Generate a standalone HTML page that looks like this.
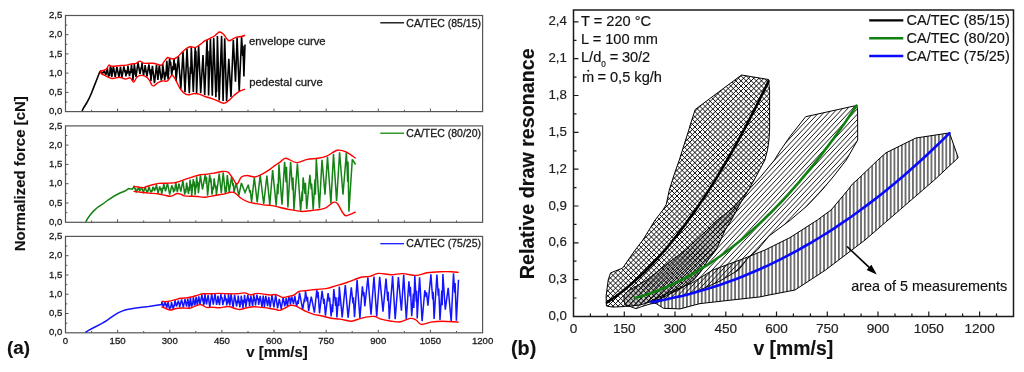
<!DOCTYPE html>
<html><head><meta charset="utf-8"><title>chart</title>
<style>html,body{margin:0;padding:0;background:#fff;width:1024px;height:372px;overflow:hidden}
svg{display:block;font-family:"Liberation Sans", sans-serif;will-change:transform}
text{stroke:#1a1a1a;stroke-width:0.3px}
text.b{stroke-width:0.15px}
text.r{stroke-width:0.18px}</style></head>
<body><svg width="1024" height="372" viewBox="0 0 1024 372" font-family='"Liberation Sans", sans-serif'><rect x="65.5" y="15.5" width="417.1" height="96.1" fill="none" stroke="#555" stroke-width="1.2"/>
<text x="62.3" y="114.2" font-size="9.6" text-anchor="end" fill="#222">0,0</text>
<text x="62.3" y="95" font-size="9.6" text-anchor="end" fill="#222">0,5</text>
<text x="62.3" y="75.7" font-size="9.6" text-anchor="end" fill="#222">1,0</text>
<text x="62.3" y="56.5" font-size="9.6" text-anchor="end" fill="#222">1,5</text>
<text x="62.3" y="37.3" font-size="9.6" text-anchor="end" fill="#222">2,0</text>
<text x="62.3" y="18.1" font-size="9.6" text-anchor="end" fill="#222">2,5</text>
<path d="M65.5,102h1.8 M65.5,92.4h3 M65.5,82.8h1.8 M65.5,73.1h3 M65.5,63.5h1.8 M65.5,53.9h3 M65.5,44.3h1.8 M65.5,34.7h3 M65.5,25.1h1.8 M91.6,111.6v-1.8 M117.6,111.6v-3 M143.7,111.6v-1.8 M169.8,111.6v-3 M195.8,111.6v-1.8 M221.9,111.6v-3 M248,111.6v-1.8 M274,111.6v-3 M300.1,111.6v-1.8 M326.2,111.6v-3 M352.2,111.6v-1.8 M378.3,111.6v-3 M404.4,111.6v-1.8 M430.4,111.6v-3 M456.5,111.6v-1.8" stroke="#555" stroke-width="1" fill="none"/>
<rect x="65.5" y="125.9" width="417.1" height="96.4" fill="none" stroke="#555" stroke-width="1.2"/>
<text x="62.3" y="224.9" font-size="9.6" text-anchor="end" fill="#222">0,0</text>
<text x="62.3" y="205.6" font-size="9.6" text-anchor="end" fill="#222">0,5</text>
<text x="62.3" y="186.3" font-size="9.6" text-anchor="end" fill="#222">1,0</text>
<text x="62.3" y="167" font-size="9.6" text-anchor="end" fill="#222">1,5</text>
<text x="62.3" y="147.7" font-size="9.6" text-anchor="end" fill="#222">2,0</text>
<text x="62.3" y="128.5" font-size="9.6" text-anchor="end" fill="#222">2,5</text>
<path d="M65.5,212.7h1.8 M65.5,203h3 M65.5,193.4h1.8 M65.5,183.7h3 M65.5,174.1h1.8 M65.5,164.4h3 M65.5,154.8h1.8 M65.5,145.1h3 M65.5,135.5h1.8 M91.6,222.3v-1.8 M117.6,222.3v-3 M143.7,222.3v-1.8 M169.8,222.3v-3 M195.8,222.3v-1.8 M221.9,222.3v-3 M248,222.3v-1.8 M274,222.3v-3 M300.1,222.3v-1.8 M326.2,222.3v-3 M352.2,222.3v-1.8 M378.3,222.3v-3 M404.4,222.3v-1.8 M430.4,222.3v-3 M456.5,222.3v-1.8" stroke="#555" stroke-width="1" fill="none"/>
<rect x="65.5" y="236.4" width="417.1" height="96.4" fill="none" stroke="#555" stroke-width="1.2"/>
<text x="62.3" y="335.4" font-size="9.6" text-anchor="end" fill="#222">0,0</text>
<text x="62.3" y="316.1" font-size="9.6" text-anchor="end" fill="#222">0,5</text>
<text x="62.3" y="296.8" font-size="9.6" text-anchor="end" fill="#222">1,0</text>
<text x="62.3" y="277.6" font-size="9.6" text-anchor="end" fill="#222">1,5</text>
<text x="62.3" y="258.3" font-size="9.6" text-anchor="end" fill="#222">2,0</text>
<text x="62.3" y="239" font-size="9.6" text-anchor="end" fill="#222">2,5</text>
<path d="M65.5,323.2h1.8 M65.5,313.5h3 M65.5,303.9h1.8 M65.5,294.2h3 M65.5,284.6h1.8 M65.5,275h3 M65.5,265.3h1.8 M65.5,255.7h3 M65.5,246h1.8 M91.6,332.8v-1.8 M117.6,332.8v-3 M143.7,332.8v-1.8 M169.8,332.8v-3 M195.8,332.8v-1.8 M221.9,332.8v-3 M248,332.8v-1.8 M274,332.8v-3 M300.1,332.8v-1.8 M326.2,332.8v-3 M352.2,332.8v-1.8 M378.3,332.8v-3 M404.4,332.8v-1.8 M430.4,332.8v-3 M456.5,332.8v-1.8" stroke="#555" stroke-width="1" fill="none"/>
<text x="65.5" y="344" font-size="9.6" text-anchor="middle" fill="#222">0</text>
<text x="117.6" y="344" font-size="9.6" text-anchor="middle" fill="#222">150</text>
<text x="169.8" y="344" font-size="9.6" text-anchor="middle" fill="#222">300</text>
<text x="221.9" y="344" font-size="9.6" text-anchor="middle" fill="#222">450</text>
<text x="274" y="344" font-size="9.6" text-anchor="middle" fill="#222">600</text>
<text x="326.2" y="344" font-size="9.6" text-anchor="middle" fill="#222">750</text>
<text x="378.3" y="344" font-size="9.6" text-anchor="middle" fill="#222">900</text>
<text x="430.4" y="344" font-size="9.6" text-anchor="middle" fill="#222">1050</text>
<text x="482.6" y="344" font-size="9.6" text-anchor="middle" fill="#222">1200</text>
<path d="M380.3,22.8H404" stroke="#000" stroke-width="1.3"/>
<text x="406.3" y="26.5" font-size="10.5" fill="#222">CA/TEC (85/15)</text>
<path d="M380.3,133.2H404" stroke="#118811" stroke-width="1.3"/>
<text x="406.3" y="136.9" font-size="10.5" fill="#222">CA/TEC (80/20)</text>
<path d="M380.3,243.7H404" stroke="#1a1aff" stroke-width="1.3"/>
<text x="406.3" y="247.4" font-size="10.5" fill="#222">CA/TEC (75/25)</text>
<path d="M82,110.8 L84,107.2 L86.5,103.3 L89.1,98.5 L91.5,93 L94.1,86.4 L97,79 L99.6,72.3 L100.5,71.1 L102.2,73.9 L103.1,72.1 L103.3,73.1 L104,70.4 L105.9,75 L107.3,68.1 L108.6,77 L109.2,73.2 L109.5,76 L110.4,66.2 L110.9,70.1 L111.1,67.5 L111.8,77 L113.4,66.4 L115.2,77.2 L116.9,67 L119,77 L120.5,66.8 L121.9,77.7 L123.9,66.3 L125.1,72.5 L125.3,70.1 L125.9,76.3 L127,70.6 L127.2,73.8 L127.9,65.7 L129.5,76.1 L130.3,71.1 L130.6,73.1 L131.5,64.3 L132.2,72.8 L132.4,68.9 L132.9,80.7 L133.7,71.7 L133.8,74.6 L134.3,64 L136,76.9 L138,62.5 L140,74.2 L141.3,66.9 L141.6,69.1 L142,62.9 L143.5,75.7 L144.3,70.1 L144.5,72.3 L145.1,65.1 L146.9,76.5 L148.9,64.3 L150.2,74.6 L150.4,69.4 L150.9,80.9 L152.4,65.8 L154.5,83.1 L156.5,65 L157.9,79.9 L159.3,65.3 L161.3,80.7 L161.9,73.7 L162.1,78.1 L162.7,64 L164.7,80 L165.6,71.8 L165.9,76.4 L166.8,60.9 L168.1,79.5 L169.6,58.3 L170.4,64.3 L170.6,61.8 L171.7,75.1 L173,66.2 L173.2,70.3 L174,58.7 L175.1,70.1 L175.4,63.5 L176.1,80.9 L178.4,56.4 L180.8,89 L183,51.8 L185,92.1 L187,49.1 L189.3,93.2 L190.4,66.8 L190.7,74 L191.3,47.3 L193.3,91.9 L195.2,47.6 L195.7,65.8 L195.9,50.7 L196.6,93 L198.6,45.7 L200.7,93.3 L203,55 L204.7,95 L207,39.9 L207.7,66.2 L207.9,51 L208.6,95.4 L210.4,38.6 L212.3,95.7 L213.7,37.7 L215.9,97.2 L216.5,75 L216.6,91.9 L217.4,36.1 L219.2,100.5 L221.6,35.9 L223.1,101.1 L224.7,38.2 L226.6,101 L228.8,58.7 L231,96.9 L233.3,40 L235.5,81.8 L237.1,37.6 L239.2,91.3 L241.6,37 L242.7,56 L243,45.8 L243.9,76.4 L245,44.5" stroke="#000" stroke-width="1.6" fill="none" stroke-linejoin="miter" stroke-miterlimit="3"/>
<path d="M99.8,71.2 C100.6,71 103.5,70.5 104.7,70 C105.9,69.5 106.4,69 107.1,68.2 C107.8,67.4 108.1,65.4 108.9,65.1 C109.7,64.8 110.3,66.2 112,66.3 C113.7,66.4 116.8,65.9 119.2,65.7 C121.6,65.5 124.5,65.4 126.5,65.1 C128.5,64.8 129.7,64.2 131.3,63.9 C132.9,63.6 134.8,63.8 136.2,63.3 C137.6,62.8 138.6,61.1 139.8,61.1 C141,61.1 142,62.7 143.4,63.1 C144.8,63.5 146.7,63.3 148.3,63.3 C149.9,63.3 151.5,63.1 153.1,63.3 C154.7,63.5 156.6,64.2 158,64.5 C159.4,64.8 160.5,65.7 161.6,65.1 C162.7,64.5 163.6,62.2 164.6,60.9 C165.6,59.6 166.7,57.9 167.6,57.5 C168.5,57.1 169,58.1 170,58.3 C171,58.5 172.4,59.1 173.6,58.9 C174.8,58.7 175.9,58.2 177.3,57.1 C178.7,56 180.6,53.6 182.1,52.2 C183.6,50.8 184.9,49.5 186.3,48.6 C187.7,47.7 189.1,47 190.6,46.8 C192.1,46.6 193.8,47.8 195.4,47.4 C197,47 198.7,45.5 200.3,44.4 C201.9,43.3 203.5,41.7 205.1,40.7 C206.7,39.7 208.6,39 210,38.3 C211.4,37.6 212.5,37.2 213.6,36.5 C214.7,35.8 215.6,34.9 216.6,34.1 C217.6,33.4 218.5,32 219.6,32 C220.7,32 222.1,33 223.3,34.1 C224.5,35.2 225.9,37.8 226.9,38.9 C227.9,40 228.3,40.7 229.3,40.7 C230.3,40.7 231.8,39.5 233,38.9 C234.2,38.3 235.2,37.5 236.6,37.1 C238,36.7 240,36.8 241.4,36.5 C242.8,36.2 244.5,35.5 245.1,35.3" stroke="#f00" stroke-width="1.4" fill="none"/>
<path d="M99.8,72.4 C100.6,72.9 102.7,74.4 104.7,75.4 C106.7,76.4 109.6,78.2 112,78.5 C114.4,78.8 117,77.1 119.2,77.2 C121.4,77.3 123.5,79 125.3,79.1 C127.1,79.2 128.7,77.3 130.1,77.8 C131.5,78.3 132.6,82.2 133.7,82.1 C134.8,82 135.6,78.3 136.8,77.2 C138,76.1 139.5,75.5 141,75.4 C142.5,75.3 144.4,75.8 145.8,76.6 C147.2,77.4 148.5,78.9 149.5,80.3 C150.5,81.7 151.1,84.2 151.9,85.1 C152.7,86 153.3,86.1 154.3,85.7 C155.3,85.3 156.6,83.5 158,82.7 C159.4,81.9 161.2,81.2 162.8,80.9 C164.4,80.6 166.1,81.8 167.6,80.9 C169.1,80 170.6,75.7 171.8,75.3 C173,74.9 173.9,77 174.8,78.3 C175.7,79.6 176.3,81.3 177.3,83.2 C178.3,85.1 179.5,88 180.9,89.8 C182.3,91.6 184.3,93.3 185.7,94.1 C187.1,94.9 188,94.8 189.4,94.7 C190.8,94.6 192.6,93.6 194.2,93.5 C195.8,93.4 197.3,93.6 199.1,94.1 C200.9,94.6 203.1,95.8 205.1,96.5 C207.1,97.2 209.4,97.7 211.2,98.3 C213,98.9 214.4,99.4 216,100.1 C217.6,100.8 219.4,102 220.8,102.5 C222.2,103 223.1,103.5 224.5,103.1 C225.9,102.7 227.7,101.4 229.3,100.1 C230.9,98.8 232.6,96.7 234.2,95.3 C235.8,93.9 237.2,92.6 239,91.6 C240.8,90.6 244.1,89.6 245.1,89.2" stroke="#f00" stroke-width="1.4" fill="none"/>
<text x="249" y="45.4" font-size="11.3" fill="#222">envelope curve</text>
<text x="249.3" y="86.3" font-size="11.3" fill="#222">pedestal curve</text>
<path d="M85.7,221.8 L88,218 L90.5,214.5 L93.7,210.9 L98,207 L102.9,204 L108,200 L114.3,196 L120,193 L125,191 L128.6,188.6 L132.3,189.2 L134,186.6 L135.2,189.2 L135.5,188.1 L136.3,191.6 L137.2,190 L137.4,190.6 L138.1,188.3 L139.1,189.6 L139.4,189 L139.9,190.5 L141.8,187.9 L143.3,192.2 L145.2,187.6 L147,192.5 L147.7,190.2 L147.9,191.7 L148.9,186.5 L150.9,192.4 L151.8,189.9 L152.1,191.6 L152.9,186.8 L153.5,188.4 L153.7,187.5 L154.5,191 L155.4,188 L155.6,189.3 L156.4,184.4 L158.1,193.3 L159.7,186.4 L160.8,190.4 L161,187.8 L161.7,194.1 L163,187.3 L163.2,189 L163.7,183.4 L165.5,191.4 L167.5,183.2 L169.7,194.6 L171.8,185.3 L172.7,188.7 L172.9,187.4 L173.5,192.3 L174.4,188.6 L174.7,191.1 L175.8,182.6 L177.3,192.1 L179,183.6 L180.8,191.7 L182.9,180.6 L184.7,194.6 L185.6,188.9 L185.8,192.6 L186.6,182.6 L188.5,194 L189.3,186.5 L189.5,191 L190,179.5 L190.9,188.1 L191.1,183.8 L191.7,196 L193.3,179 L194.1,186.4 L194.3,181.5 L195.1,194.9 L195.9,184.7 L196.1,188.1 L196.6,176.4 L197.6,185.8 L197.8,181.7 L198.4,193.2 L200.4,175.4 L202.5,189.5 L205.2,174.7 L206.3,183.9 L206.5,176.7 L207.6,195.6 L209.7,174.7 L210.6,182.3 L210.9,178.4 L212,194.7 L213,186.8 L213.3,189.6 L214.1,178.4 L215.5,188.5 L215.8,185.2 L216.4,195 L219.2,173.7 L221.3,193 L223.2,172.6 L225.3,193.4 L226,186.9 L226.2,191.9 L227.3,175.1 L229.2,191.9 L231.6,176.8 L233,186.1 L233.3,183.1 L234,192.1 L236.2,183.2 L238.8,195.5 L241.4,183 L245,192.5 L248.3,184.7 L249.8,192.7 L250.2,190 L251.6,201.8 L254.3,177.3 L257.2,202.3 L260.2,175.2 L263.7,204 L266.9,175.6 L269.8,205 L272.6,170 L276.2,205.6 L277.6,183.8 L278,194.3 L278.9,164.2 L282,204.6 L284.6,161.7 L286.1,182.5 L286.5,166.7 L287.9,207.4 L290.6,162.1 L292.6,190.3 L293,177.6 L293.9,210.1 L297.4,163.5 L300.6,211.1 L302.1,191.3 L302.4,201.2 L303.1,177.4 L305,193.9 L305.4,182.9 L306.7,209 L309.9,174.9 L311.2,189.3 L311.6,183.6 L313.2,209.6 L315,179.3 L315.4,194.7 L316.3,158.6 L319.4,208.4 L322,159.8 L325,194.8 L327.5,156.9 L330.9,203.2 L333.5,154 L336.6,201.3 L339.6,152.4 L343,194.7 L346.4,152.3 L347.7,182 L348,161.4 L348.9,211.6 L352.3,159.3 L355.6,164.5" stroke="#148214" stroke-width="1.5" fill="none" stroke-miterlimit="3"/>
<path d="M133.5,186.5 C134.3,186.6 136.7,186.8 138.3,187 C139.9,187.2 141.8,187.9 143.2,187.8 C144.6,187.7 145.4,187 146.8,186.5 C148.2,186 149.6,185.5 151.6,185 C153.6,184.5 156.5,183.7 158.9,183.4 C161.3,183.1 163.8,183.3 166.2,183.2 C168.6,183.1 171.4,183.1 173.4,182.9 C175.4,182.7 176.7,182.4 178.3,181.9 C179.9,181.4 181.5,180.7 183.1,180.1 C184.7,179.5 186.2,178.9 188,178.3 C189.8,177.7 192,177.1 194,176.5 C196,175.9 197.9,175.1 200.1,174.7 C202.3,174.3 204.9,174.4 207.4,174.1 C209.9,173.8 212.3,173.4 214.8,173 C217.3,172.6 220,171.7 222.2,171.5 C224.4,171.3 226.4,171 228.1,172.1 C229.8,173.2 231,175.8 232.5,177.8 C234,179.8 235.5,184.1 237,184 C238.5,183.9 239.7,178.4 241.4,177 C243.1,175.6 245.1,175.5 247.3,175.5 C249.5,175.5 252.2,177.2 254.7,177 C257.2,176.8 259.6,175.3 262.1,174.1 C264.6,172.9 267.3,171.1 269.5,169.6 C271.7,168.1 273.6,166.4 275.4,165.2 C277.1,164 278.3,163.3 280,162.2 C281.7,161 283.1,158.2 285.8,158.3 C288.6,158.4 292.9,162.4 296.5,162.6 C300.1,162.8 303.7,160.1 307.3,159.4 C310.9,158.7 314.8,158.9 318,158.3 C321.2,157.8 323.4,157.4 326.6,156.1 C329.8,154.8 334.2,151 337.4,150.3 C340.6,149.6 343,150.5 346,151.8 C349,153.1 354,157.2 355.6,158.3" stroke="#f00" stroke-width="1.4" fill="none"/>
<path d="M133.5,191.4 C134.7,191.5 138.1,191.9 140.7,192.2 C143.3,192.5 146.4,192.8 149.2,193.1 C152,193.4 155.1,193.4 157.7,193.8 C160.3,194.2 163,194.9 165,195.3 C167,195.7 168.4,196.2 169.8,196.2 C171.2,196.2 172.2,195.8 173.4,195.3 C174.6,194.9 175.9,193.7 177.1,193.5 C178.3,193.3 179.5,193.7 180.7,194.1 C181.9,194.5 182.7,195.6 184.3,195.9 C185.9,196.2 188.2,196.1 190.4,196.2 C192.6,196.3 195.2,196.3 197.6,196.5 C200,196.7 202.1,197.4 205,197.2 C207.9,197 211.9,196 214.8,195.5 C217.7,195 219.5,194.9 222.2,194.3 C224.9,193.8 228.9,192.4 231.1,192.2 C233.3,192 233.8,192.2 235.5,193.3 C237.2,194.4 239.2,197 241.4,198.5 C243.6,200 246.3,201.3 248.8,202.2 C251.3,203 253.5,203.1 256.2,203.6 C258.9,204.1 262.4,204.8 265.1,205.1 C267.8,205.4 270,205.2 272.5,205.6 C275,206 277.4,206.9 280,207.5 C282.6,208.1 284.4,208.5 287.9,209.2 C291.4,209.8 296.9,211.2 300.8,211.4 C304.8,211.6 307.7,211 311.6,210.5 C315.6,210 320.9,209.8 324.5,208.4 C328.1,207.1 331,203.2 333.1,202.4 C335.2,201.6 336,202 337.4,203.4 C338.8,204.8 340.3,208.9 341.7,211 C343.1,213.1 343.7,215.5 346,215.7 C348.3,215.9 354,212.6 355.6,212" stroke="#f00" stroke-width="1.4" fill="none"/>
<path d="M85.4,332.4 L89,330.2 L93,328 L97,326 L101.5,323.6 L106,321 L110,318.2 L114,315.4 L118,312.9 L122,311.1 L126,309.8 L130,308.9 L136,308 L142,307.2 L148.8,306.4 L155,305.5 L161.5,304.5 L162,301.7 L163.3,307.2 L165.1,302 L166,305.5 L166.2,303.8 L166.6,308.3 L168.1,302.2 L169.6,309.9 L170.4,306.5 L170.7,308.2 L171.5,302.2 L173.3,309.1 L174.1,304.6 L174.3,306.3 L175,300.3 L176.5,306.4 L178.4,300.6 L179.2,304.7 L179.3,302.7 L179.6,307.3 L181.6,299.5 L183.3,307.3 L185,299.1 L186.6,306.7 L187.8,298.5 L188.5,303.5 L188.6,301.5 L189,307.7 L189.5,303.5 L189.7,306.1 L190.3,297.1 L191.7,306.7 L192.4,302.7 L192.6,305.5 L193.3,297.2 L194.9,305.5 L196.1,296.9 L197.3,305.2 L198.8,296.4 L200,304.7 L201.9,294.6 L202.9,301.4 L203.1,298.2 L203.6,305.8 L204,301.6 L204.2,304 L204.9,293.9 L206.5,304.5 L208.1,295.2 L209.8,307.2 L211.7,293.9 L213.3,304.7 L215,293.7 L216.6,305 L217.3,299.7 L217.5,302.8 L217.9,295.7 L219.5,305.2 L220.9,294 L221.7,299 L222,297.2 L222.8,305.2 L223.8,299.8 L224,301.7 L224.8,294.3 L225.9,300.7 L226.1,298.3 L226.7,305.4 L227.6,299.6 L227.8,303.4 L228.5,294.2 L229.8,305.4 L231.1,294.1 L233.1,307.6 L234.6,294.8 L236.6,306.5 L237.5,300.2 L237.7,303.1 L238.2,295.6 L239.9,307.5 L240.6,301.1 L240.8,304.8 L241.2,295.7 L242.1,302.1 L242.3,299.8 L242.9,308.3 L243.9,299.9 L244.1,303.3 L244.5,294.8 L245.3,301.9 L245.5,299.2 L245.9,306.9 L247.8,294.8 L248.8,301.7 L249,298.5 L249.5,306.6 L250.9,295.8 L252.6,306.1 L253.8,295.1 L254.9,301.4 L255.1,299.3 L255.5,305.5 L256.9,294.6 L257.8,299.8 L258,298.1 L258.7,305 L260.1,296 L262,307.2 L263.2,295.6 L264.4,306.8 L265.8,295.8 L267.6,306.1 L268.8,296.8 L270.2,307.4 L272,295.2 L273.9,307.4 L275.7,294.9 L277.6,308.4 L279.3,298.8 L281.2,308.9 L283.1,297.5 L284.8,306.3 L285.5,301.5 L285.7,304.4 L286.1,297.8 L286.9,303.2 L287.1,301.1 L287.4,306.2 L288.8,296.8 L289.4,299.8 L289.6,297.7 L290.4,304.6 L291.7,296.5 L293.5,304.1 L294.8,296 L296.6,306.5 L297.9,300.3 L298.2,304 L299.5,292.6 L302.7,309.6 L304.4,298.5 L304.7,302.3 L305.5,291.2 L307.1,301.5 L307.5,296.7 L308.6,311 L311.3,296.6 L314.4,312.6 L316.8,289.9 L317.8,298.1 L318.1,291.8 L319.5,313.3 L322.1,290.8 L323.8,304 L324.2,298.8 L325.4,315.7 L328.1,293.2 L329.2,301.6 L329.6,297.5 L331.1,316.4 L332.3,304 L332.6,312.2 L333.8,289 L335.7,306 L336,297.2 L336.9,317.4 L338.5,297.4 L338.8,305.9 L339.3,286.6 L342.2,317.4 L345.3,285.1 L348.1,317.8 L351.3,287.3 L353,303.4 L353.4,297.3 L354.5,317.2 L357.1,279.9 L359.9,318.3 L362.4,286.3 L363.6,296.4 L363.9,292.1 L364.8,306.3 L367.9,277.3 L371,314.8 L374,276.6 L376.7,316.4 L379.7,276.9 L383,311.6 L386,278.6 L387.8,300.9 L388.2,291.7 L389.3,319.3 L392.6,276 L395.2,319.1 L398.4,277.1 L401.4,310.8 L403.7,274.9 L406.3,319.2 L408.9,281.2 L410.1,296.4 L410.4,286.7 L411.7,316.3 L413.4,293.6 L413.8,307.9 L414.8,275.4 L416.3,301.7 L416.6,290.7 L417.2,318.5 L419.6,277.4 L422.1,321.3 L424.8,290.2 L426.2,297.2 L426.6,292.2 L427.9,305.6 L430.9,274.2 L432.7,299.4 L433.1,291.7 L434.1,318.9 L436.9,274.5 L438.3,295.6 L438.7,288.5 L440,319.9 L441.8,290.6 L442.2,305.2 L442.9,274.1 L445.3,309.7 L448.2,287.9 L451.2,321.7 L453.5,273.4 L454.7,292.8 L455.1,283.1 L456.4,320.6 L458.5,279.8" stroke="#1414ff" stroke-width="1.5" fill="none" stroke-miterlimit="3"/>
<path d="M161.5,301.5 C162.6,301.5 165.8,301.8 167.9,301.5 C170.1,301.2 172.2,300.4 174.4,299.9 C176.6,299.4 178.7,298.7 180.8,298.3 C183,297.9 185.3,298 187.3,297.7 C189.3,297.4 190.8,297.1 192.6,296.7 C194.4,296.3 196.2,295.6 198,295.1 C199.8,294.6 201.2,294 203.4,293.8 C205.6,293.6 208.2,293.9 210.9,293.8 C213.6,293.7 216.6,293.4 219.5,293.4 C222.4,293.4 225.1,293.7 228.1,293.8 C231.1,293.9 234.6,294 237.3,293.8 C240,293.6 242.3,292.7 244.5,292.9 C246.7,293.1 248.6,294.9 250.6,295 C252.6,295.1 254.4,293.5 256.6,293.4 C258.8,293.2 261.7,293.8 263.9,294.1 C266.1,294.4 268,294.9 270,295 C272,295.1 274.2,294.3 276,294.6 C277.8,294.9 279.4,296.3 280.8,296.8 C282.2,297.3 283.1,297.5 284.5,297.4 C285.9,297.3 287.7,296.6 289.3,296.2 C290.9,295.8 292.6,295.8 294.2,295 C295.8,294.2 297.2,292 299,291.3 C300.8,290.6 302.2,291 305,290.7 C307.8,290.4 312,289.9 315.5,289.5 C319,289.1 322.5,289.2 326,288.6 C329.5,288 332.9,286.6 336.4,285.6 C339.9,284.6 344,283.5 346.9,282.5 C349.8,281.5 351.6,280.7 353.9,279.8 C356.2,278.9 358.3,277.8 360.9,277.2 C363.5,276.6 366.7,277 369.6,276.4 C372.5,275.8 374.8,273.7 378.4,273.4 C382,273.1 387.3,274.7 391.3,274.7 C395.3,274.7 398.5,273.5 402.6,273.6 C406.7,273.7 411.7,275.5 415.8,275.4 C419.9,275.3 423,273.4 427.1,272.8 C431.2,272.2 436.2,271.9 440.3,271.7 C444.4,271.5 448.5,271.6 451.6,271.7 C454.7,271.8 457.5,272.3 458.7,272.4" stroke="#f00" stroke-width="1.4" fill="none"/>
<path d="M161.5,306.9 C162.2,307.2 164.4,308 165.8,308.5 C167.2,309 168.3,310.1 170.1,310.1 C171.9,310.1 174.3,308.9 176.5,308.5 C178.7,308.1 180.8,308.1 183,308 C185.2,307.9 187.2,308.6 189.4,308.2 C191.6,307.8 193.9,306.4 195.9,305.8 C197.9,305.2 199.4,304.4 201.2,304.7 C203,305 204.6,307 206.6,307.4 C208.6,307.8 210.9,307.1 213.1,307.2 C215.2,307.2 217,307.8 219.5,307.7 C222,307.6 225.5,306.4 228.1,306.5 C230.7,306.6 233.1,308 235,308.5 C236.9,309 237.7,309.6 239.7,309.5 C241.7,309.4 244.6,308.2 247,307.7 C249.4,307.2 251.8,306.8 254.2,306.7 C256.6,306.6 259.1,307.1 261.5,307.4 C263.9,307.7 266.3,307.9 268.7,308.3 C271.1,308.7 274.2,309.1 276,309.5 C277.8,309.9 278.2,310.6 279.6,310.4 C281,310.2 282.7,309.1 284.5,308.3 C286.3,307.5 288.7,305.7 290.5,305.3 C292.3,304.9 293.8,305.4 295.4,305.9 C297,306.4 298.6,307.4 300.2,308.3 C301.8,309.2 302.9,310 305.1,311 C307.4,312 310.8,313.5 313.7,314.3 C316.6,315.1 319.6,315.3 322.5,316 C325.4,316.7 328.3,317.8 331.2,318.3 C334.1,318.8 336.7,318.6 339.9,319.1 C343.1,319.6 347.5,321.1 350.4,321.2 C353.3,321.3 354.8,320.2 357.4,319.5 C360,318.8 363.2,317.6 366.1,317.1 C369,316.6 372.6,316.2 374.9,316.5 C377.2,316.8 377.3,318 380,318.8 C382.7,319.6 387.9,320.7 391.3,321.2 C394.8,321.7 397.6,322.3 400.7,321.8 C403.8,321.3 407.6,318.7 410.1,318.4 C412.6,318.1 413.9,318.9 415.8,319.9 C417.7,320.9 418.9,324 421.4,324.4 C423.9,324.8 427.4,322.6 430.8,322.1 C434.2,321.6 437.5,321.2 442.1,321.2 C446.8,321.2 455.9,322 458.7,322.1" stroke="#f00" stroke-width="1.4" fill="none"/>
<text transform="translate(25.3,173.7) rotate(-90)" font-size="15" font-weight="bold" class="b" text-anchor="middle" fill="#111">Normalized force [cN]</text>
<text x="277" y="357.1" font-size="15" font-weight="bold" class="b" text-anchor="middle" fill="#111">v [mm/s]</text>
<text x="7" y="354.4" font-size="18.8" font-weight="bold" class="b" fill="#111">(a)</text>
<defs>
<filter id="sb" x="-5%" y="-5%" width="110%" height="110%"><feGaussianBlur stdDeviation="0.4"/></filter>
<pattern id="ch" patternUnits="userSpaceOnUse" width="5.12" height="5.12" x="3.69" y="-1.1">
<path d="M-1,1 L1,-1 M0,5.12 L5.12,0 M4.12,6.12 L6.12,4.12 M-1,4.12 L1,6.12 M0,0 L5.12,5.12 M4.12,-1 L6.12,1" stroke="#000" stroke-width="0.95"/>
</pattern>
<pattern id="dg" patternUnits="userSpaceOnUse" width="10" height="3.66" patternTransform="translate(802.6,130) rotate(-47)">
<path d="M-1,0H11M-1,3.66H11" stroke="#111" stroke-width="0.5" shape-rendering="crispEdges"/>
</pattern>
<pattern id="vt" patternUnits="userSpaceOnUse" width="3.705" height="10" x="-2.2">
<path d="M0,-1V11M3.705,-1V11" stroke="#000" stroke-width="1.05"/>
</pattern>
</defs>
<clipPath id="gclip"><path d="M805.7,116.7 L856.8,105.4 L857.6,110 L857.7,140 L846.3,160 L833.8,176 L822.1,190 L806.9,206 L790.4,220 L769,236 L757.4,250 L748,258 L738.6,270 L720,281 L700,290 L685,295 L670,298.5 L655,303 L649.5,304.2 L641.9,306.5 L636,308.6 L630.1,306.5 L625,305 L624,300 L624,295 L628,291 L637.5,285.5 L646.9,280 L659.2,270 L672,260 L685.7,250 L696.2,240 L705,232 L717.4,220 L733.9,207 L748.5,190 L760.6,176.8 L774.5,160 L780,151 L790,136.5 Z"/></clipPath>
<path d="M650,301.3 L657,304 L663.4,308.3 L680,308.9 L694.5,305 L700,303.6 L730,300.2 L760,296.9 L770,294.8 L795,290 L825.6,270 L865,240 L899.7,210 L934.4,180 L958.2,157.7 L949.5,132.9 L915.9,138 L886,152.8 L877.9,160 L857,180 L852.6,183.8 L847.9,190 L831.1,210 L817.4,220 L790,237.6 L765,250 L744.5,258.3 L712.8,270 L691,283.5 L670,292 Z" fill="url(#vt)" stroke="none"/>
<path d="M630.6,100L432.9,312M635.6,100L437.9,312M640.6,100L442.9,312M645.6,100L447.9,312M650.6,100L452.9,312M655.6,100L457.9,312M660.6,100L462.9,312M665.6,100L467.9,312M670.6,100L472.9,312M675.6,100L477.9,312M680.6,100L482.9,312M685.6,100L487.9,312M690.6,100L492.9,312M695.6,100L497.9,312M700.6,100L502.9,312M705.6,100L507.9,312M710.6,100L512.9,312M715.6,100L517.9,312M720.6,100L522.9,312M725.6,100L527.9,312M730.6,100L532.9,312M735.6,100L537.9,312M740.6,100L542.9,312M745.6,100L547.9,312M750.6,100L552.9,312M755.6,100L557.9,312M760.6,100L562.9,312M765.6,100L567.9,312M770.6,100L572.9,312M775.6,100L577.9,312M780.6,100L582.9,312M785.6,100L587.9,312M790.6,100L592.9,312M795.6,100L597.9,312M800.6,100L602.9,312M805.6,100L607.9,312M810.6,100L612.9,312M815.6,100L617.9,312M820.6,100L622.9,312M825.6,100L627.9,312M830.6,100L632.9,312M835.6,100L637.9,312M840.6,100L642.9,312M845.6,100L647.9,312M850.6,100L652.9,312M855.6,100L657.9,312M860.6,100L662.9,312M865.6,100L667.9,312M870.6,100L672.9,312M875.6,100L677.9,312M880.6,100L682.9,312M885.6,100L687.9,312M890.6,100L692.9,312M895.6,100L697.9,312M900.6,100L702.9,312M905.6,100L707.9,312M910.6,100L712.9,312M915.6,100L717.9,312M920.6,100L722.9,312M925.6,100L727.9,312M930.6,100L732.9,312M935.6,100L737.9,312M940.6,100L742.9,312M945.6,100L747.9,312M950.6,100L752.9,312M955.6,100L757.9,312M960.6,100L762.9,312M965.6,100L767.9,312M970.6,100L772.9,312M975.6,100L777.9,312M980.6,100L782.9,312M985.6,100L787.9,312M990.6,100L792.9,312M995.6,100L797.9,312M1000.6,100L802.9,312M1005.6,100L807.9,312M1010.6,100L812.9,312M1015.6,100L817.9,312M1020.6,100L822.9,312M1025.6,100L827.9,312" stroke="#000" stroke-width="0.9" fill="none" clip-path="url(#gclip)"/>
<clipPath id="bclip"><path d="M695.2,109.5 L720,91 L741.5,75 L768.5,79.5 L769.6,90 L769.6,130 L769,140 L767.5,150 L764.9,160 L759.5,170 L754.2,180 L748.5,190 L740,204 L731.4,220 L725.2,230 L716.1,250 L708.1,260 L701.5,270.6 L693.8,280 L680,289 L660,299 L640,305 L625.5,306.5 L612.6,307.1 L606.4,306 L606.1,296 L608.2,280 L610.5,272.9 L622.6,268.1 L635.2,250 L642.9,240 L649,230 L655.2,220 L662.9,210 L666.3,204.2 L669.3,190 L674,175 L679.3,160 L684,145 L688.8,130 L690.2,125 Z"/></clipPath>
<path d="M603.3,70L361.3,312M608.4,70L366.4,312M613.6,70L371.6,312M618.7,70L376.7,312M623.8,70L381.8,312M628.9,70L386.9,312M634,70L392,312M639.2,70L397.2,312M644.3,70L402.3,312M649.4,70L407.4,312M654.5,70L412.5,312M659.6,70L417.6,312M664.8,70L422.8,312M669.9,70L427.9,312M675,70L433,312M680.1,70L438.1,312M685.2,70L443.2,312M690.4,70L448.4,312M695.5,70L453.5,312M700.6,70L458.6,312M705.7,70L463.7,312M710.8,70L468.8,312M716,70L474,312M721.1,70L479.1,312M726.2,70L484.2,312M731.3,70L489.3,312M736.4,70L494.4,312M741.6,70L499.6,312M746.7,70L504.7,312M751.8,70L509.8,312M756.9,70L514.9,312M762,70L520,312M767.2,70L525.2,312M772.3,70L530.3,312M777.4,70L535.4,312M782.5,70L540.5,312M787.6,70L545.6,312M792.8,70L550.8,312M797.9,70L555.9,312M803,70L561,312M808.1,70L566.1,312M813.2,70L571.2,312M818.4,70L576.4,312M823.5,70L581.5,312M828.6,70L586.6,312M833.7,70L591.7,312M838.8,70L596.8,312M844,70L602,312M849.1,70L607.1,312M854.2,70L612.2,312M859.3,70L617.3,312M864.4,70L622.4,312M869.6,70L627.6,312M874.7,70L632.7,312M879.8,70L637.8,312M884.9,70L642.9,312M890,70L648,312M895.2,70L653.2,312M900.3,70L658.3,312M905.4,70L663.4,312M910.5,70L668.5,312M915.6,70L673.6,312M920.8,70L678.8,312M925.9,70L683.9,312M931,70L689,312M936.1,70L694.1,312M941.2,70L699.2,312M946.4,70L704.4,312M951.5,70L709.5,312M956.6,70L714.6,312M961.7,70L719.7,312M966.8,70L724.8,312M972,70L730,312M977.1,70L735.1,312M982.2,70L740.2,312M987.3,70L745.3,312M992.4,70L750.4,312M997.5,70L755.5,312M1002.7,70L760.7,312M1007.8,70L765.8,312M1012.9,70L770.9,312M361.5,70L603.5,312M366.6,70L608.6,312M371.8,70L613.8,312M376.9,70L618.9,312M382,70L624,312M387.1,70L629.1,312M392.2,70L634.2,312M397.4,70L639.4,312M402.5,70L644.5,312M407.6,70L649.6,312M412.7,70L654.7,312M417.8,70L659.8,312M423,70L665,312M428.1,70L670.1,312M433.2,70L675.2,312M438.3,70L680.3,312M443.4,70L685.4,312M448.6,70L690.5,312M453.7,70L695.7,312M458.8,70L700.8,312M463.9,70L705.9,312M469,70L711,312M474.2,70L716.2,312M479.3,70L721.3,312M484.4,70L726.4,312M489.5,70L731.5,312M494.6,70L736.6,312M499.8,70L741.8,312M504.9,70L746.9,312M510,70L752,312M515.1,70L757.1,312M520.2,70L762.2,312M525.4,70L767.4,312M530.5,70L772.5,312M535.6,70L777.6,312M540.7,70L782.7,312M545.8,70L787.8,312M551,70L793,312M556.1,70L798.1,312M561.2,70L803.2,312M566.3,70L808.3,312M571.4,70L813.4,312M576.5,70L818.5,312M581.7,70L823.7,312M586.8,70L828.8,312M591.9,70L833.9,312M597,70L839,312M602.1,70L844.1,312M607.3,70L849.3,312M612.4,70L854.4,312M617.5,70L859.5,312M622.6,70L864.6,312M627.8,70L869.8,312M632.9,70L874.9,312M638,70L880,312M643.1,70L885.1,312M648.2,70L890.2,312M653.4,70L895.4,312M658.5,70L900.5,312M663.6,70L905.6,312M668.7,70L910.7,312M673.8,70L915.8,312M678.9,70L920.9,312M684.1,70L926.1,312M689.2,70L931.2,312M694.3,70L936.3,312M699.4,70L941.4,312M704.5,70L946.5,312M709.7,70L951.7,312M714.8,70L956.8,312M719.9,70L961.9,312M725,70L967,312M730.1,70L972.1,312M735.3,70L977.3,312M740.4,70L982.4,312M745.5,70L987.5,312M750.6,70L992.6,312M755.8,70L997.8,312M760.9,70L1002.9,312M766,70L1008,312M771.1,70L1013.1,312" stroke="#000" stroke-width="0.95" fill="none" clip-path="url(#bclip)"/>
<path d="M805.7,116.7 L856.8,105.4 L857.6,110 L857.7,140 L846.3,160 L833.8,176 L822.1,190 L806.9,206 L790.4,220 L769,236 L757.4,250 L748,258 L738.6,270 L720,281 L700,290 L685,295 L670,298.5 L655,303 L649.5,304.2 L641.9,306.5 L636,308.6 L630.1,306.5 L625,305 L624,300 L624,295 L628,291 L637.5,285.5 L646.9,280 L659.2,270 L672,260 L685.7,250 L696.2,240 L705,232 L717.4,220 L733.9,207 L748.5,190 L760.6,176.8 L774.5,160 L780,151 L790,136.5 Z" fill="#000" fill-opacity="0.22" clip-path="url(#bclip)"/>
<path d="M650,301.3 L657,304 L663.4,308.3 L680,308.9 L694.5,305 L700,303.6 L730,300.2 L760,296.9 L770,294.8 L795,290 L825.6,270 L865,240 L899.7,210 L934.4,180 L958.2,157.7 L949.5,132.9 L915.9,138 L886,152.8 L877.9,160 L857,180 L852.6,183.8 L847.9,190 L831.1,210 L817.4,220 L790,237.6 L765,250 L744.5,258.3 L712.8,270 L691,283.5 L670,292 Z" fill="none" stroke="#000" stroke-width="1" stroke-linejoin="round"/>
<path d="M805.7,116.7 L856.8,105.4 L857.6,110 L857.7,140 L846.3,160 L833.8,176 L822.1,190 L806.9,206 L790.4,220 L769,236 L757.4,250 L748,258 L738.6,270 L720,281 L700,290 L685,295 L670,298.5 L655,303 L649.5,304.2 L641.9,306.5 L636,308.6 L630.1,306.5 L625,305 L624,300 L624,295 L628,291 L637.5,285.5 L646.9,280 L659.2,270 L672,260 L685.7,250 L696.2,240 L705,232 L717.4,220 L733.9,207 L748.5,190 L760.6,176.8 L774.5,160 L780,151 L790,136.5 Z" fill="none" stroke="#000" stroke-width="1" stroke-linejoin="round"/>
<path d="M695.2,109.5 L720,91 L741.5,75 L768.5,79.5 L769.6,90 L769.6,130 L769,140 L767.5,150 L764.9,160 L759.5,170 L754.2,180 L748.5,190 L740,204 L731.4,220 L725.2,230 L716.1,250 L708.1,260 L701.5,270.6 L693.8,280 L680,289 L660,299 L640,305 L625.5,306.5 L612.6,307.1 L606.4,306 L606.1,296 L608.2,280 L610.5,272.9 L622.6,268.1 L635.2,250 L642.9,240 L649,230 L655.2,220 L662.9,210 L666.3,204.2 L669.3,190 L674,175 L679.3,160 L684,145 L688.8,130 L690.2,125 Z" fill="none" stroke="#000" stroke-width="1" stroke-linejoin="round"/>
<path d="M607,302.5 L611.1,299.7 L615.3,296.8 L619.4,293.7 L623.6,290.5 L627.7,287.1 L631.8,283.6 L636,279.9 L640.1,276.1 L644.3,272.1 L648.4,267.9 L652.6,263.7 L656.7,259.2 L660.8,254.6 L665,249.9 L669.1,245 L673.3,239.9 L677.4,234.7 L681.5,229.3 L685.7,223.8 L689.8,218.1 L694,212.3 L698.1,206.3 L702.2,200.2 L706.4,193.9 L710.5,187.5 L714.7,180.9 L718.8,174.1 L722.9,167.2 L727.1,160.2 L731.2,153 L735.4,145.6 L739.5,138.1 L743.7,130.4 L747.8,122.6 L751.9,114.6 L756.1,106.5 L760.2,98.2 L764.4,89.8 L768.5,81.2" stroke="#000" stroke-width="2.6" fill="none" stroke-linecap="round"/>
<path d="M634.8,298.1 L640.5,296.5 L646.2,294.7 L651.9,292.8 L657.5,290.7 L663.2,288.4 L668.9,286 L674.6,283.3 L680.3,280.6 L686,277.6 L691.6,274.5 L697.3,271.2 L703,267.7 L708.7,264.1 L714.4,260.2 L720.1,256.2 L725.8,252.1 L731.4,247.7 L737.1,243.2 L742.8,238.5 L748.5,233.6 L754.2,228.5 L759.9,223.3 L765.5,217.8 L771.2,212.2 L776.9,206.4 L782.6,200.5 L788.3,194.3 L794,187.9 L799.7,181.4 L805.3,174.7 L811,167.8 L816.7,160.7 L822.4,153.4 L828.1,145.9 L833.8,138.3 L839.4,130.4 L845.1,122.4 L850.8,114.1 L856.5,105.7" stroke="#108010" stroke-width="2.6" fill="none" stroke-linecap="round"/>
<path d="M651.5,302.1 L659.1,300.8 L666.8,299.3 L674.4,297.6 L682.1,295.9 L689.7,293.9 L697.3,291.8 L705,289.6 L712.6,287.2 L720.3,284.7 L727.9,282 L735.6,279.2 L743.2,276.2 L750.8,273 L758.5,269.7 L766.1,266.3 L773.8,262.6 L781.4,258.9 L789,254.9 L796.7,250.8 L804.3,246.5 L812,242.1 L819.6,237.5 L827.2,232.8 L834.9,227.8 L842.5,222.7 L850.2,217.5 L857.8,212 L865.4,206.4 L873.1,200.6 L880.7,194.7 L888.4,188.5 L896,182.2 L903.7,175.8 L911.3,169.1 L918.9,162.2 L926.6,155.2 L934.2,148 L941.9,140.6 L949.5,133.1" stroke="#0a0aff" stroke-width="2.6" fill="none" stroke-linecap="round"/>
<path d="M573.5,9.95 H1013.5 V316.4 H573.5 Z" fill="none" stroke="#1a1a1a" stroke-width="1.5"/>
<path d="M573.5,298h3 M573.5,279.6h5 M573.5,261.2h3 M573.5,242.8h5 M573.5,224.4h3 M573.5,206h5 M573.5,187.6h3 M573.5,169.2h5 M573.5,150.8h3 M573.5,132.3h5 M573.5,113.9h3 M573.5,95.5h5 M573.5,77.1h3 M573.5,58.7h5 M573.5,40.3h3 M573.5,21.9h5 M590.4,316.4v-3 M607.3,316.4v-3 M624.3,316.4v-5 M641.2,316.4v-3 M658.1,316.4v-3 M675,316.4v-5 M691.9,316.4v-3 M708.9,316.4v-3 M725.8,316.4v-5 M742.7,316.4v-3 M759.6,316.4v-3 M776.5,316.4v-5 M793.4,316.4v-3 M810.4,316.4v-3 M827.3,316.4v-5 M844.2,316.4v-3 M861.1,316.4v-3 M878,316.4v-5 M895,316.4v-3 M911.9,316.4v-3 M928.8,316.4v-5 M945.7,316.4v-3 M962.6,316.4v-3 M979.6,316.4v-5 M996.5,316.4v-3" stroke="#1a1a1a" stroke-width="1.2" fill="none"/>
<text class="r" x="566.9" y="319.9" font-size="13.3" text-anchor="end" fill="#222">0,0</text>
<text class="r" x="566.9" y="283.1" font-size="13.3" text-anchor="end" fill="#222">0,3</text>
<text class="r" x="566.9" y="246.3" font-size="13.3" text-anchor="end" fill="#222">0,6</text>
<text class="r" x="566.9" y="209.5" font-size="13.3" text-anchor="end" fill="#222">0,9</text>
<text class="r" x="566.9" y="172.7" font-size="13.3" text-anchor="end" fill="#222">1,2</text>
<text class="r" x="566.9" y="135.8" font-size="13.3" text-anchor="end" fill="#222">1,5</text>
<text class="r" x="566.9" y="99" font-size="13.3" text-anchor="end" fill="#222">1,8</text>
<text class="r" x="566.9" y="62.2" font-size="13.3" text-anchor="end" fill="#222">2,1</text>
<text class="r" x="566.9" y="25.4" font-size="13.3" text-anchor="end" fill="#222">2,4</text>
<text class="r" x="573.5" y="332.5" font-size="13.6" text-anchor="middle" fill="#222">0</text>
<text class="r" x="624.3" y="332.5" font-size="13.6" text-anchor="middle" fill="#222">150</text>
<text class="r" x="675" y="332.5" font-size="13.6" text-anchor="middle" fill="#222">300</text>
<text class="r" x="725.8" y="332.5" font-size="13.6" text-anchor="middle" fill="#222">450</text>
<text class="r" x="776.5" y="332.5" font-size="13.6" text-anchor="middle" fill="#222">600</text>
<text class="r" x="827.3" y="332.5" font-size="13.6" text-anchor="middle" fill="#222">750</text>
<text class="r" x="878" y="332.5" font-size="13.6" text-anchor="middle" fill="#222">900</text>
<text class="r" x="928.8" y="332.5" font-size="13.6" text-anchor="middle" fill="#222">1050</text>
<text class="r" x="979.6" y="332.5" font-size="13.6" text-anchor="middle" fill="#222">1200</text>
<path d="M869.2,20.4H903.3" stroke="#000" stroke-width="2.4"/>
<text class="r" x="906.6" y="25.3" font-size="14.5" fill="#111">CA/TEC (85/15)</text>
<path d="M869.2,38.2H903.3" stroke="#108010" stroke-width="2.4"/>
<text class="r" x="906.6" y="43.1" font-size="14.5" fill="#111">CA/TEC (80/20)</text>
<path d="M869.2,56H903.3" stroke="#0a0aff" stroke-width="2.4"/>
<text class="r" x="906.6" y="60.9" font-size="14.5" fill="#111">CA/TEC (75/25)</text>
<text class="r" x="581" y="26" font-size="14.6" fill="#111">T = 220 °C</text>
<text class="r" x="581" y="43.9" font-size="14.6" fill="#111">L = 100 mm</text>
<text class="r" x="581" y="62.2" font-size="14.6" fill="#111">L/d<tspan font-size="8.2" dy="4.4">0</tspan><tspan dy="-4.4" letter-spacing="-0.15"> = 30/2</tspan></text>
<text class="r" x="581" y="82.3" font-size="14.6" fill="#111"><tspan dx="1">m</tspan><tspan dx="-0.8"> = 0,5 kg/h</tspan></text>
<circle cx="588.3" cy="70.8" r="0.95" fill="#111"/>
<path d="M847,246.5 L870.5,268.6" stroke="#000" stroke-width="1.6"/>
<path d="M876.8,274.6 L866.6,269.9 L871.4,264.7 Z" fill="#000"/>
<text class="r" x="851.3" y="290.6" font-size="14.4" fill="#111">area of 5 measurements</text>
<text transform="translate(534.3,163.8) rotate(-90)" font-size="19.7" font-weight="bold" class="b" text-anchor="middle" fill="#111">Relative draw resonance</text>
<text x="793.3" y="355" font-size="19.4" font-weight="bold" class="b" text-anchor="middle" fill="#111">v [mm/s]</text>
<text x="511" y="354.8" font-size="19.8" font-weight="bold" class="b" fill="#111">(b)</text></svg></body></html>
